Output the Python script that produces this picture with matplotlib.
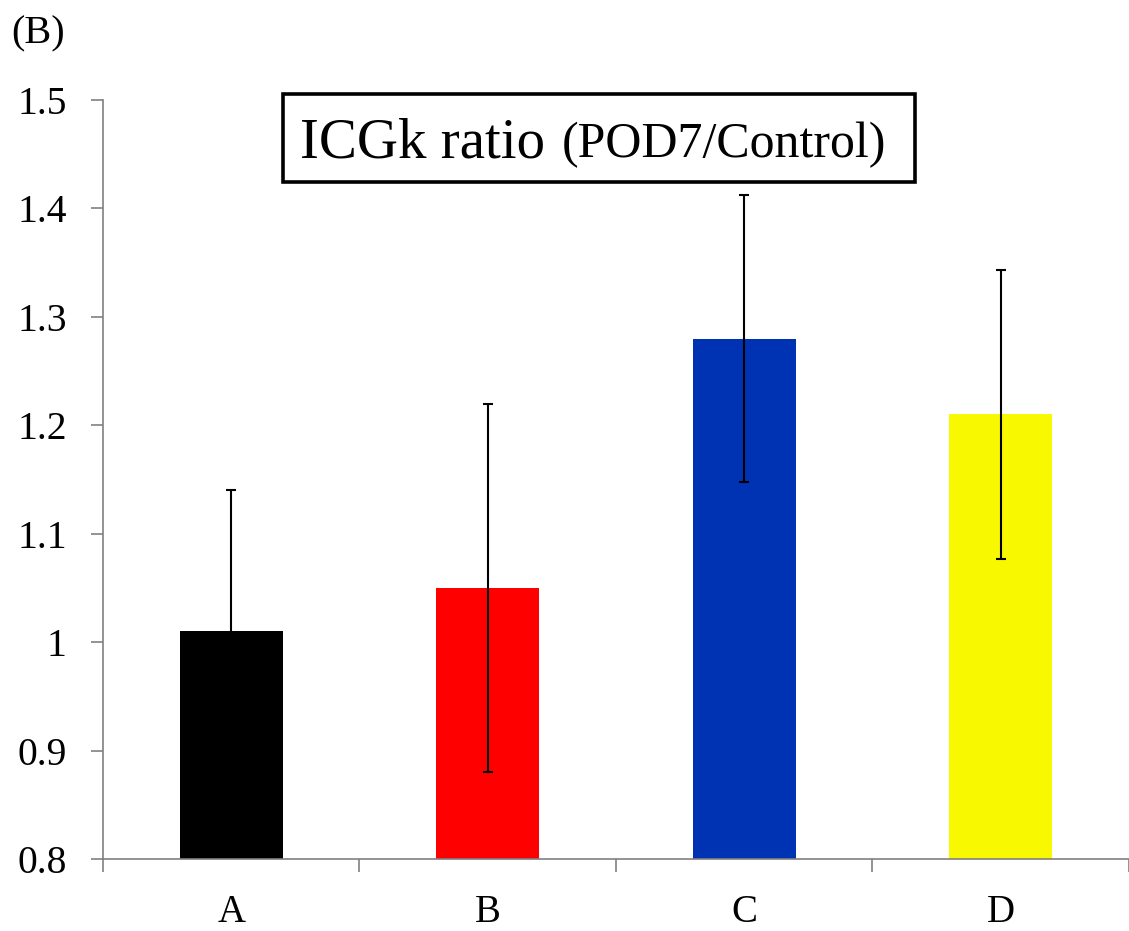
import matplotlib
matplotlib.use("Agg")
import matplotlib.pyplot as plt
from matplotlib.patches import Rectangle
from matplotlib.ticker import FixedLocator

plt.rcParams["font.family"] = ["Liberation Serif", "DejaVu Serif"]

groups = ["A", "B", "C", "D"]
means = [1.01, 1.05, 1.28, 1.21]
errors = [0.13, 0.17, 0.132, 0.133]
colors = ["#000000", "#FF0000", "#0032B4", "#F8F800"]

fig = plt.figure(figsize=(11.29, 9.31), dpi=100)
ax = fig.add_axes([0.0912, 0.0773, 0.9088, 0.8153])

x = list(range(len(groups)))
ax.bar(x, [m - 0.8 for m in means], bottom=0.8, width=0.4, color=colors, zorder=2)
ax.errorbar(x, means, yerr=errors, fmt="none", ecolor="black",
            elinewidth=1.5, capsize=3.5, capthick=1.5, zorder=3)

ax.set_ylim(0.8, 1.5)
ax.set_xlim(-0.5, 3.5)
ax.set_yticks([0.8, 0.9, 1.0, 1.1, 1.2, 1.3, 1.4, 1.5])
ax.set_yticklabels(["0.8", "0.9", "1", "1.1", "1.2", "1.3", "1.4", "1.5"])
ax.set_xticks(x)
ax.set_xticklabels(groups)
ax.xaxis.set_minor_locator(FixedLocator([-0.5, 0.5, 1.5, 2.5, 3.5]))

for s in ["top", "right"]:
    ax.spines[s].set_visible(False)
for s in ["left", "bottom"]:
    ax.spines[s].set_color("#808080")
    ax.spines[s].set_linewidth(1.2)

ax.tick_params(axis="y", direction="out", length=9, width=1.2, color="#808080",
               labelsize=28.5, pad=17)
ax.tick_params(axis="x", which="major", length=0, labelsize=28, pad=25)
ax.tick_params(axis="x", which="minor", direction="out", length=9, width=1.2,
               color="#808080")

# title box
fig.patches.append(Rectangle((283 / 1129, 1 - 182 / 931), 632 / 1129, 88 / 931,
                             transform=fig.transFigure, fill=False,
                             edgecolor="black", linewidth=2.6))
fig.text(300 / 1129, 1 - 157 / 931, "ICGk ratio", fontsize=41, va="baseline")
fig.text(562 / 1129, 1 - 157 / 931, "(POD7/Control)", fontsize=36, va="baseline")

fig.text(11 / 1129, 1 - 43 / 931, "(B)", fontsize=29, va="baseline")

fig.savefig("out.png", dpi=100)
